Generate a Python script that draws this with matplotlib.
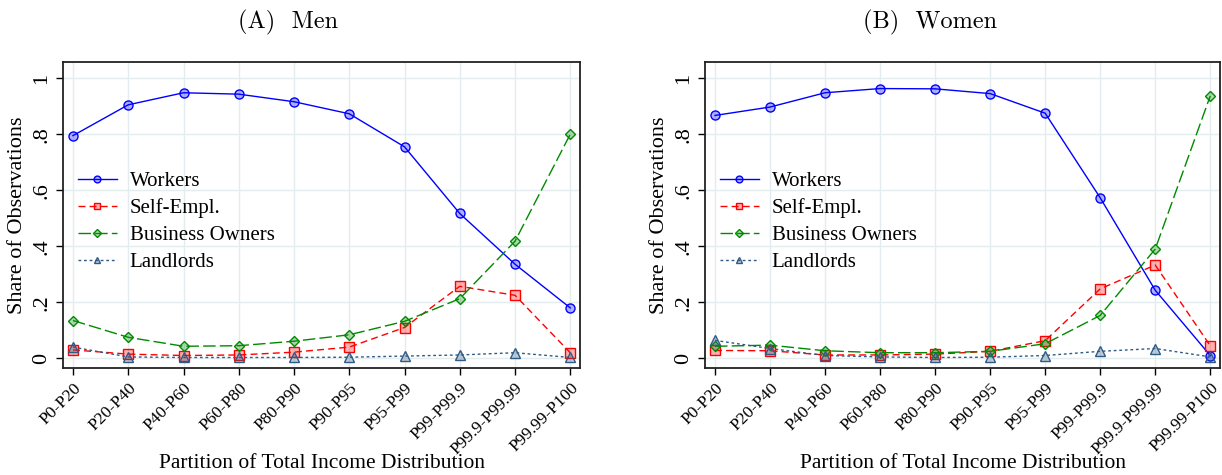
import matplotlib
matplotlib.use("Agg")
import matplotlib.pyplot as plt
from matplotlib.colors import to_rgba

# partitions of the income distribution
groups = ["P0-P20", "P20-P40", "P40-P60", "P60-P80", "P80-P90", "P90-P95",
          "P95-P99", "P99-P99.9", "P99.9-P99.99", "P99.99-P100"]

# Men
men_workers = [0.795, 0.905, 0.948, 0.943, 0.916, 0.873, 0.755, 0.517, 0.336, 0.180]
men_selfempl = [0.030, 0.015, 0.010, 0.012, 0.022, 0.040, 0.110, 0.257, 0.225, 0.020]
men_business = [0.135, 0.075, 0.043, 0.045, 0.061, 0.084, 0.132, 0.213, 0.418, 0.800]
men_landlords = [0.040, 0.005, 0.003, 0.003, 0.003, 0.004, 0.008, 0.012, 0.020, 0.003]

# Women
women_workers = [0.867, 0.897, 0.948, 0.963, 0.962, 0.945, 0.875, 0.573, 0.243, 0.010]
women_selfempl = [0.028, 0.027, 0.012, 0.012, 0.015, 0.025, 0.063, 0.248, 0.333, 0.045]
women_business = [0.043, 0.047, 0.027, 0.020, 0.020, 0.025, 0.052, 0.153, 0.390, 0.937]
women_landlords = [0.064, 0.035, 0.010, 0.005, 0.003, 0.004, 0.010, 0.025, 0.035, 0.005]

series_names = ["Workers", "Self-Empl.", "Business Owners", "Landlords"]
titles = ["(A)  Men", "(B)  Women"]

plt.rcParams['font.family'] = ['Liberation Serif', 'DejaVu Serif']

styles = [
    dict(color="#0000ff", marker="o", dashes=(), ms=6.5),
    dict(color="#ff0000", marker="s", dashes=(5, 3), ms=6.5),
    dict(color="#008a00", marker="D", dashes=(9, 3), ms=5.5),
    dict(color="#2f5b85", marker="^", dashes=(2, 2), ms=6.5),
]

fig = plt.figure(figsize=(12.22, 4.75), dpi=100)
ax_left = fig.add_axes([0.0516, 0.225, 0.4232, 0.644])
ax_right = fig.add_axes([0.577, 0.225, 0.4215, 0.644])

panels = [
    (ax_left, [men_workers, men_selfempl, men_business, men_landlords]),
    (ax_right, [women_workers, women_selfempl, women_business, women_landlords]),
]
title_x = [288 / 1222, 930 / 1222]

x = list(range(len(groups)))
for k, (ax, data) in enumerate(panels):
    for vals, name, st in zip(data, series_names, styles):
        c = st["color"]
        line, = ax.plot(x, vals, color=c, linewidth=1.0, marker=st["marker"],
                        markersize=st["ms"], markerfacecolor=to_rgba(c, 0.3),
                        markeredgecolor=c, markeredgewidth=1.0, label=name)
        if st["dashes"]:
            line.set_dashes(st["dashes"])

    ax.set_xlim(-0.18, 9.18)
    ax.set_ylim(-0.035, 1.057)
    ax.set_xticks(x)
    ax.set_xticklabels(groups, rotation=45, ha="right", rotation_mode="anchor",
                       fontsize=12.5)
    ax.set_yticks([0, 0.2, 0.4, 0.6, 0.8, 1.0])
    ax.set_yticklabels(["0", ".2", ".4", ".6", ".8", "1"], rotation=90,
                       va="center", fontsize=16)
    ax.grid(True, color="#e3ecee", linewidth=1.0)
    ax.set_axisbelow(True)
    for sp in ax.spines.values():
        sp.set_linewidth(1.3)
        sp.set_color("#222222")
    ax.tick_params(length=5, width=1.0)
    ax.set_ylabel("Share of Observations", fontsize=16)
    ax.set_xlabel("Partition of Total Income Distribution", fontsize=15.5,
                  va="baseline")
    ax.xaxis.set_label_coords(0.5, -0.325)
    fig.text(title_x[k], 1 - 22 / 475, titles[k], fontsize=17.5,
             family="cmr10", ha="center", va="center")
    ax.legend(loc="upper left", bbox_to_anchor=(0.0, 0.69), frameon=False,
              fontsize=15, handlelength=1.9, labelspacing=0.35,
              handletextpad=0.6, borderaxespad=0.3, markerscale=0.75)

fig.savefig("out.png", dpi=100)
